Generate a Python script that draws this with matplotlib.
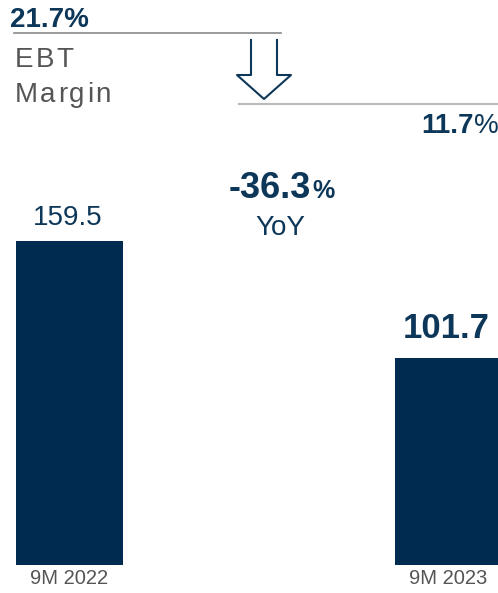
import matplotlib
matplotlib.use("Agg")
import matplotlib.pyplot as plt

plt.rcParams['font.family'] = ['Liberation Sans', 'DejaVu Sans']

periods = ['9M 2022', '9M 2023']
ebt = [159.5, 101.7]
ebt_labels = ['159.5', '101.7']
margin_start = '21.7%'
margin_end = '11.7'
yoy_change = '-36.3'

NAVY = '#002b51'
TEXT_NAVY = '#0d3759'
GREY = '#555555'

W, H = 498, 593
fig = plt.figure(figsize=(W / 100, H / 100), dpi=100)


def fx(px):
    return px / W


def fy(py):
    return 1 - py / H


def spaced_text(x, y, s, spacing, **kw):
    # draw letters one by one, with extra letter spacing in pixels
    renderer = fig.canvas.get_renderer()
    cur = x
    for ch in s:
        t = fig.text(fx(cur), fy(y), ch, **kw)
        bb = t.get_window_extent(renderer=renderer)
        cur += bb.width + spacing


# bars
ax = fig.add_axes([0, 1 - 565 / H, 1, 565 / H])
pos = [0, 1]
ax.bar(pos, ebt, width=107 / 379, color=NAVY)
ax.set_xlim(-69.5 / 379, 1 + 49.5 / 379)
ax.set_ylim(0, 565 / 2.031)
for s in ax.spines.values():
    s.set_visible(False)
ax.set_yticks([])
ax.set_xticks(pos)
ax.set_xticklabels(periods, fontsize=14.5, color=GREY)
ax.tick_params(axis='x', length=0, pad=3)

ax.annotate(ebt_labels[0], (pos[0], ebt[0]), xytext=(-2, 16),
            textcoords='offset pixels', ha='center', va='baseline',
            fontsize=20, color=TEXT_NAVY)
ax.annotate(ebt_labels[1], (pos[1], ebt[1]), xytext=(-2, 20),
            textcoords='offset pixels', ha='center', va='baseline',
            fontsize=25, fontweight='bold', color=TEXT_NAVY)

# margin header
fig.text(fx(10), fy(27), margin_start, fontsize=20, fontweight='bold',
         color=TEXT_NAVY, va='baseline')
fig.add_artist(plt.Line2D([fx(14), fx(281)], [fy(33), fy(33)],
                          color='#8a8a8a', lw=1.2))
spaced_text(15, 67, 'EBT', 2.0, fontsize=20, color=GREY, va='baseline')
spaced_text(15, 102, 'Margin', 2.2, fontsize=20, color=GREY, va='baseline')

# hollow down arrow
ax_x = [251, 251, 237, 264, 291, 277, 277]
ax_y = [40, 75, 75, 99, 75, 75, 40]
fig.add_artist(plt.Line2D([fx(v) for v in ax_x], [fy(v) for v in ax_y],
                          color=TEXT_NAVY, lw=1.5))

fig.add_artist(plt.Line2D([fx(239), fx(498)], [fy(104), fy(104)],
                          color='#bbbbbb', lw=1.6))
fig.text(fx(474), fy(133), margin_end, fontsize=20, fontweight='bold',
         color=TEXT_NAVY, ha='right', va='baseline')
fig.text(fx(474), fy(133), '%', fontsize=20, color=TEXT_NAVY,
         ha='left', va='baseline')

# yoy
fig.text(fx(311), fy(198), yoy_change, fontsize=26, fontweight='bold',
         color=TEXT_NAVY, ha='right', va='baseline')
fig.text(fx(312), fy(198), '%', fontsize=18, fontweight='bold',
         color=TEXT_NAVY, ha='left', va='baseline')
fig.text(fx(280), fy(235), 'YoY', fontsize=20, color=TEXT_NAVY,
         ha='center', va='baseline')

fig.savefig('out.png', dpi=100)
